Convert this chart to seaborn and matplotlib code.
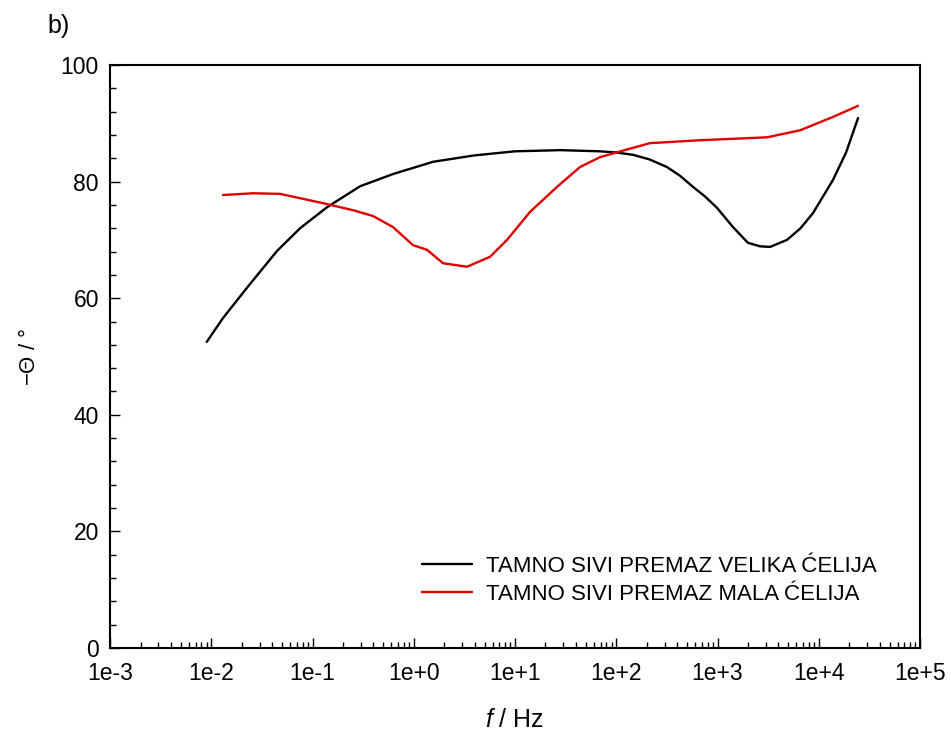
import matplotlib
matplotlib.use('Agg')
import matplotlib.pyplot as plt
import numpy as np
import pandas as pd
import seaborn as sns
from matplotlib.ticker import LogLocator, FuncFormatter, MultipleLocator, NullFormatter

# curve: log10(f / Hz) and -theta in degrees
big_logf = [-2.045, -1.884, -1.647, -1.351, -1.123, -0.857, -0.531, -0.205, 0.19,
            0.6, 1.0, 1.45, 1.84, 2.0, 2.165, 2.33, 2.501, 2.63, 2.758, 2.88, 2.995,
            3.153, 3.301, 3.42, 3.519, 3.686, 3.82, 3.943, 4.141, 4.27, 4.388]
big_phase = [52.5, 56.6, 61.8, 68.1, 72.0, 75.6, 79.2, 81.3, 83.4,
             84.5, 85.2, 85.4, 85.2, 85.0, 84.6, 83.8, 82.5, 81.0, 79.1, 77.4, 75.5,
             72.2, 69.5, 68.9, 68.8, 70.0, 72.0, 74.6, 80.3, 85.0, 90.9]

small_logf = [-1.884, -1.588, -1.321, -0.896, -0.600, -0.402, -0.205, -0.007, 0.131,
              0.289, 0.526, 0.753, 0.921, 1.148, 1.415, 1.642, 1.84, 2.165, 2.333,
              2.827, 3.489, 3.815, 4.141, 4.388]
small_phase = [77.7, 78.0, 77.9, 76.3, 75.1, 74.1, 72.2, 69.1, 68.3,
               66.0, 65.4, 67.1, 70.0, 74.8, 79.1, 82.5, 84.2, 85.8, 86.6,
               87.1, 87.6, 88.8, 91.1, 93.0]

labels = ['TAMNO SIVI PREMAZ VELIKA ĆELIJA', 'TAMNO SIVI PREMAZ MALA ĆELIJA']

df = pd.concat([
    pd.DataFrame({'f': 10 ** np.array(big_logf), 'phase': big_phase, 'sample': labels[0]}),
    pd.DataFrame({'f': 10 ** np.array(small_logf), 'phase': small_phase, 'sample': labels[1]}),
])

sns.set_style('ticks')
plt.rcParams['font.family'] = ['Liberation Sans', 'DejaVu Sans']
plt.rcParams['text.color'] = 'black'
plt.rcParams['axes.labelcolor'] = 'black'
plt.rcParams['mathtext.fontset'] = 'custom'
plt.rcParams['mathtext.it'] = 'Liberation Sans:italic'
plt.rcParams['mathtext.rm'] = 'Liberation Sans'

fig = plt.figure(figsize=(9.51, 7.34), dpi=100)
ax = fig.add_axes([0.1157, 0.1172, 0.8517, 0.7942])

sns.lineplot(data=df, x='f', y='phase', hue='sample', sort=False,
             palette=['black', '#e00000'], linewidth=1.7, ax=ax)

ax.set_xscale('log')
ax.set_xlim(1e-3, 1e5)
ax.set_ylim(0, 100)


def fmt_dec(v, pos):
    e = int(round(np.log10(v)))
    return f'1e{e:+d}' if e >= 0 else f'1e{e}'


ax.xaxis.set_major_locator(LogLocator(base=10, numticks=20))
ax.xaxis.set_minor_locator(LogLocator(base=10, subs=np.arange(2, 10), numticks=20))
ax.xaxis.set_minor_formatter(NullFormatter())
ax.xaxis.set_major_formatter(FuncFormatter(fmt_dec))
ax.yaxis.set_major_locator(MultipleLocator(20))
ax.yaxis.set_minor_locator(MultipleLocator(4))

ax.tick_params(which='both', direction='in', labelsize=16.5, colors='black', width=1)
ax.tick_params(which='major', length=7)
ax.tick_params(which='minor', length=4)
ax.tick_params(axis='x', which='major', pad=10)
ax.tick_params(axis='y', which='major', pad=8)
for s in ax.spines.values():
    s.set_linewidth(1.5)
    s.set_color('black')

ax.set_xlabel('$f$ / Hz', fontsize=18, labelpad=17)
ax.set_ylabel('$-\\mathit{\\Theta}$ / °', fontsize=16, labelpad=15)

ax.legend(frameon=False, fontsize=16, handlelength=2.25, handletextpad=0.63,
          loc='upper left', bbox_to_anchor=(0.385, 0.158), borderpad=0,
          borderaxespad=0, labelspacing=0.3)

fig.text(0.05, 0.965, 'b)', fontsize=18, va='center')

fig.savefig('out.png', dpi=100)
